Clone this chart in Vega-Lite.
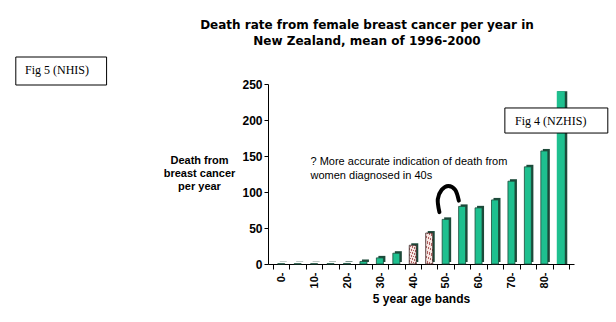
{
  "$schema": "https://vega.github.io/schema/vega-lite/v6.json",
  "width": 306,
  "height": 180,
  "autosize": {"type": "none"},
  "padding": {"left": 268, "top": 84, "right": 42, "bottom": 58},
  "background": "white",
  "config": {"view": {"stroke": null}, "font": "Liberation Sans", "axis": {"labelOverlap": false}},
  "title": {
    "text": ["Death rate from female breast cancer per year in", "New Zealand, mean of 1996-2000"],
    "anchor": "middle",
    "dx": -54,
    "offset": 9,
    "font": "DejaVu Sans",
    "fontSize": 12,
    "fontWeight": "bold",
    "lineHeight": 16,
    "color": "black"
  },
  "datasets": {
    "bars": [
      {"band": "0-", "mid": 2.5, "deaths": 0.4, "group": "other"},
      {"band": "5-", "mid": 7.5, "deaths": 0.4, "group": "other"},
      {"band": "10-", "mid": 12.5, "deaths": 0.4, "group": "other"},
      {"band": "15-", "mid": 17.5, "deaths": 0.5, "group": "other"},
      {"band": "20-", "mid": 22.5, "deaths": 0.8, "group": "other"},
      {"band": "25-", "mid": 27.5, "deaths": 3.5, "group": "other"},
      {"band": "30-", "mid": 32.5, "deaths": 8.5, "group": "other"},
      {"band": "35-", "mid": 37.5, "deaths": 15, "group": "other"},
      {"band": "40-", "mid": 42.5, "deaths": 26, "group": "40s"},
      {"band": "45-", "mid": 47.5, "deaths": 43, "group": "40s"},
      {"band": "50-", "mid": 52.5, "deaths": 62, "group": "other"},
      {"band": "55-", "mid": 57.5, "deaths": 80, "group": "other"},
      {"band": "60-", "mid": 62.5, "deaths": 78, "group": "other"},
      {"band": "65-", "mid": 67.5, "deaths": 89, "group": "other"},
      {"band": "70-", "mid": 72.5, "deaths": 115, "group": "other"},
      {"band": "75-", "mid": 77.5, "deaths": 135, "group": "other"},
      {"band": "80-", "mid": 82.5, "deaths": 157, "group": "other"},
      {"band": "85+", "mid": 87.5, "deaths": 240, "group": "tall"}
    ],
    "arc": [
      {"order": 1, "ax": 50.6, "ay": 72},
      {"order": 2, "ax": 50.1, "ay": 90},
      {"order": 3, "ax": 51.3, "ay": 103},
      {"order": 4, "ax": 53.3, "ay": 108.5},
      {"order": 5, "ax": 55.4, "ay": 103},
      {"order": 6, "ax": 56.5, "ay": 88}
    ],
    "boxes": [
      {"label": "Fig 4 (NZHIS)", "bx": 70.5, "bx2": 101.8, "by": 216.7, "by2": 181.9, "tx": 73.6, "ty": 199.3},
      {"label": "Fig 5 (NHIS)", "bx": -78.2, "bx2": -50.6, "by": 287.5, "by2": 248.6, "tx": -75.4, "ty": 269.4}
    ],
    "notes": [
      {"note": "? More accurate indication of death from\nwomen diagnosed in 40s", "nx": 11.4, "ny": 150}
    ]
  },
  "layer": [
    {
      "data": {"name": "bars"},
      "transform": [{"filter": "datum.group != 'tall'"}],
      "mark": {"type": "bar", "width": 7, "xOffset": 2, "yOffset": -2, "color": "#1d4a3a"},
      "encoding": {
        "x": {
          "field": "mid", "type": "quantitative",
          "scale": {"domain": [0, 90], "nice": false, "zero": false},
          "axis": {
            "title": "5 year age bands",
            "titleFont": "Liberation Sans", "titleFontSize": 12, "titleFontWeight": "bold", "titleColor": "black", "titlePadding": 6,
            "values": [0, 5, 10, 15, 20, 25, 30, 35, 40, 45, 50, 55, 60, 65, 70, 75, 80, 85, 90],
            "tickCount": 100,
            "labelExpr": "datum.value % 10 == 0 && datum.value <= 80 ? datum.value + '-' : ''",
            "labelAngle": -90, "labelOffset": 8.5, "labelFontWeight": "bold", "labelFontSize": 11, "labelColor": "black",
            "labelPadding": 3, "labelOverlap": false,
            "grid": false, "tickSize": 5, "tickColor": "black", "domainColor": "black"
          }
        },
        "y": {
          "field": "deaths", "type": "quantitative",
          "scale": {"domain": [0, 250], "nice": false},
          "axis": {
            "title": ["Death from", "breast cancer", "per year"],
            "titleAngle": 0, "titleAlign": "center", "titleBaseline": "top", "titleX": -69, "titleY": 70,
            "titleFont": "Liberation Sans", "titleFontSize": 11, "titleFontWeight": "bold", "titleColor": "black", "titleLineHeight": 13,
            "values": [0, 50, 100, 150, 200, 250],
            "tickCount": 100,
            "labelFontWeight": "bold", "labelFontSize": 12, "labelColor": "black", "labelPadding": 2, "labelOverlap": false,
            "grid": false, "tickSize": 4, "tickColor": "black", "domainColor": "black"
          }
        }
      }
    },
    {
      "data": {"name": "bars"},
      "transform": [{"filter": "datum.group == 'other'"}],
      "mark": {"type": "bar", "width": 7, "stroke": "#1d4a3a", "strokeWidth": 0.8, "fill": "#1ec08f"},
      "encoding": {
        "x": {"field": "mid", "type": "quantitative"},
        "y": {"field": "deaths", "type": "quantitative"}
      }
    },
    {
      "data": {"name": "bars"},
      "transform": [{"filter": "datum.group == '40s'"}],
      "mark": {
        "type": "bar", "width": 7, "stroke": "#3a2020", "strokeWidth": 0.8,
        "fill": {
          "gradient": "linear", "x1": 0, "y1": 0, "x2": 1, "y2": 1,
          "stops": [
            {"offset": 0, "color": "#f8e6e2"}, {"offset": 0.1, "color": "#f8e6e2"}, {"offset": 0.1, "color": "#b06060"}, {"offset": 0.14, "color": "#b06060"},
            {"offset": 0.14, "color": "#f8e6e2"}, {"offset": 0.26, "color": "#f8e6e2"}, {"offset": 0.26, "color": "#b06060"}, {"offset": 0.3, "color": "#b06060"},
            {"offset": 0.3, "color": "#f8e6e2"}, {"offset": 0.42, "color": "#f8e6e2"}, {"offset": 0.42, "color": "#b06060"}, {"offset": 0.46, "color": "#b06060"},
            {"offset": 0.46, "color": "#f8e6e2"}, {"offset": 0.58, "color": "#f8e6e2"}, {"offset": 0.58, "color": "#b06060"}, {"offset": 0.62, "color": "#b06060"},
            {"offset": 0.62, "color": "#f8e6e2"}, {"offset": 0.74, "color": "#f8e6e2"}, {"offset": 0.74, "color": "#b06060"}, {"offset": 0.78, "color": "#b06060"},
            {"offset": 0.78, "color": "#f8e6e2"}, {"offset": 0.9, "color": "#f8e6e2"}, {"offset": 0.9, "color": "#b06060"}, {"offset": 0.94, "color": "#b06060"},
            {"offset": 0.94, "color": "#f8e6e2"}, {"offset": 1, "color": "#f8e6e2"}
          ]
        }
      },
      "encoding": {
        "x": {"field": "mid", "type": "quantitative"},
        "y": {"field": "deaths", "type": "quantitative"}
      }
    },
    {
      "data": {"name": "bars"},
      "transform": [{"filter": "datum.group == 'tall'"}],
      "mark": {"type": "bar", "width": 10, "xOffset": 1.5, "color": "#1d4a3a"},
      "encoding": {
        "x": {"field": "mid", "type": "quantitative"},
        "y": {"field": "deaths", "type": "quantitative"}
      }
    },
    {
      "data": {"name": "bars"},
      "transform": [{"filter": "datum.group == 'tall'"}],
      "mark": {"type": "bar", "width": 8, "color": "#1ec08f"},
      "encoding": {
        "x": {"field": "mid", "type": "quantitative"},
        "y": {"field": "deaths", "type": "quantitative"}
      }
    },
    {
      "data": {"name": "arc"},
      "mark": {"type": "line", "color": "black", "strokeWidth": 4, "interpolate": "cardinal", "strokeCap": "round"},
      "encoding": {
        "x": {"field": "ax", "type": "quantitative"},
        "y": {"field": "ay", "type": "quantitative"},
        "order": {"field": "order"}
      }
    },
    {
      "data": {"name": "notes"},
      "mark": {"type": "text", "align": "left", "baseline": "top", "lineBreak": "\n", "font": "Liberation Sans", "fontSize": 11, "lineHeight": 14, "color": "black"},
      "encoding": {
        "x": {"field": "nx", "type": "quantitative"},
        "y": {"field": "ny", "type": "quantitative"},
        "text": {"field": "note"}
      }
    },
    {
      "data": {"name": "boxes"},
      "mark": {"type": "rect", "fill": "white", "stroke": "black", "strokeWidth": 1},
      "encoding": {
        "x": {"field": "bx", "type": "quantitative"},
        "x2": {"field": "bx2"},
        "y": {"field": "by", "type": "quantitative"},
        "y2": {"field": "by2"}
      }
    },
    {
      "data": {"name": "boxes"},
      "mark": {"type": "text", "align": "left", "baseline": "middle", "font": "Liberation Serif", "fontSize": 12, "color": "black"},
      "encoding": {
        "x": {"field": "tx", "type": "quantitative"},
        "y": {"field": "ty", "type": "quantitative"},
        "text": {"field": "label"}
      }
    }
  ]
}
